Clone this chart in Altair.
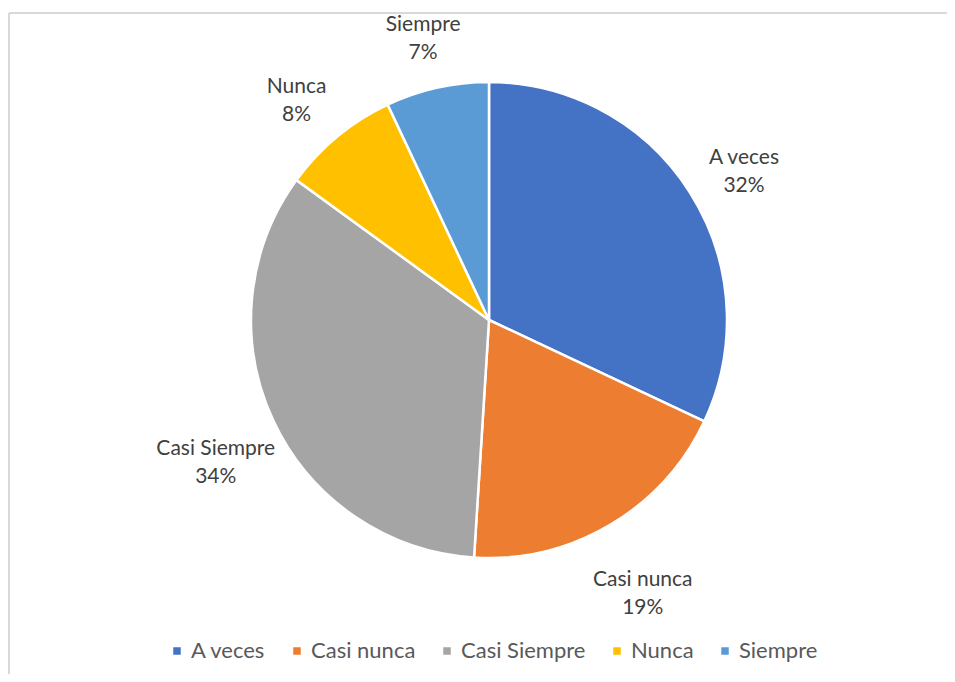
import altair as alt
import pandas as pd

categories = ["A veces", "Casi nunca", "Casi Siempre", "Nunca", "Siempre"]
percents = [32, 19, 34, 8, 7]
colors = ["#4472C4", "#ED7D31", "#A5A5A5", "#FFC000", "#5B9BD5"]

df = pd.DataFrame({
    "cat": categories,
    "pct": percents,
    "idx": list(range(len(categories))),
})
df["label"] = [f"{c}\n{p}%" for c, p in zip(categories, percents)]

FONT = "Lato"
cx, cy = 480, 312

color_scale = alt.Scale(domain=categories, range=colors)

base = alt.Chart(df).encode(
    theta=alt.Theta("pct:Q", stack=True),
    order=alt.Order("idx:Q"),
)

pie = base.mark_arc(outerRadius=238, stroke="white", strokeWidth=2.5).encode(
    x=alt.value(cx),
    y=alt.value(cy),
    color=alt.Color(
        "cat:N",
        scale=color_scale,
        sort=categories,
        legend=alt.Legend(
            title=None,
            orient="none",
            direction="horizontal",
            legendX=157,
            legendY=632,
            symbolType="square",
            symbolSize=81,
            labelFont=FONT,
            labelFontSize=22,
            labelColor="#595959",
            columnPadding=20,
            symbolOffset=0,
            labelOffset=3,
        ),
    ),
)

labels = base.mark_text(
    radius=302,
    font=FONT,
    fontSize=21,
    color="#404040",
    lineBreak="\n",
    lineHeight=28,
    align="center",
    baseline="middle",
).encode(
    x=alt.value(cx),
    y=alt.value(cy),
    text="label:N",
)

border_top = alt.Chart(df).mark_rule(color="#d9d9d9", strokeWidth=2).encode(
    x=alt.value(0), x2=alt.value(939), y=alt.value(5)
)
border_left = alt.Chart(df).mark_rule(color="#d9d9d9", strokeWidth=2).encode(
    x=alt.value(0), y=alt.value(5), y2=alt.value(666)
)

chart = alt.layer(border_top, border_left, pie, labels).properties(
    width=939,
    height=666,
    padding=0,
    autosize=alt.AutoSizeParams(type="fit", contains="padding"),
).configure_view(stroke=None)

chart.save("out.html", embed_options={"renderer": "svg", "actions": False})
